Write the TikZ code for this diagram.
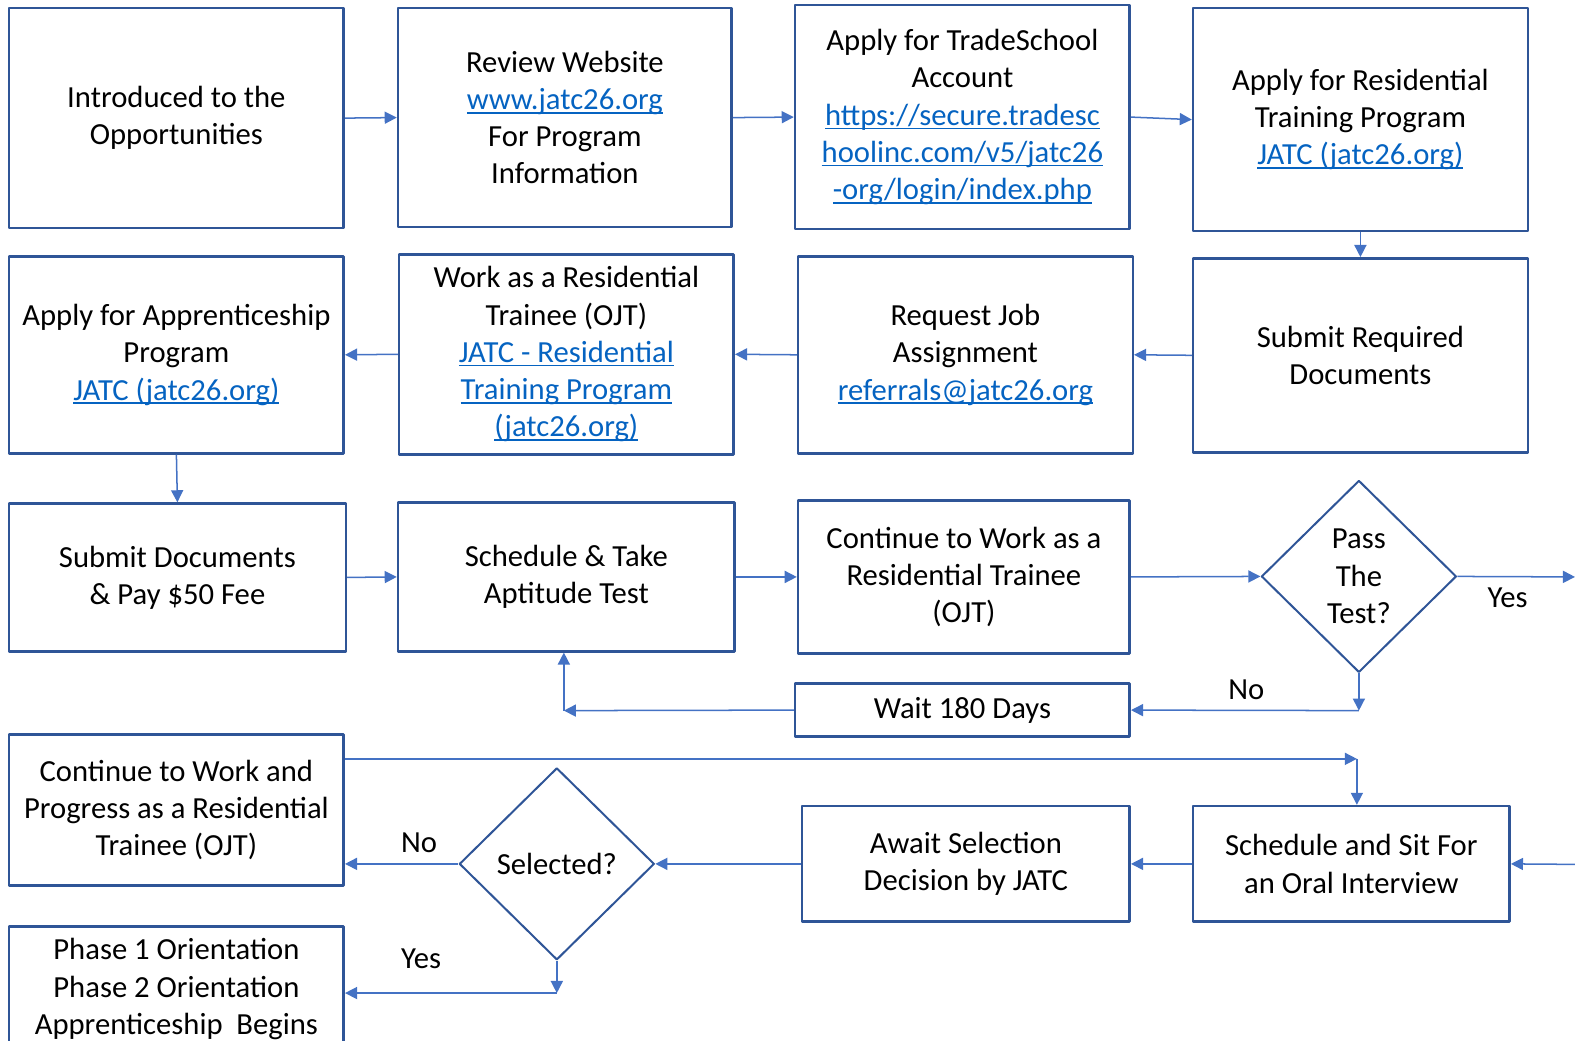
\documentclass[tikz,border=0pt]{standalone}
\usepackage{fontspec}
\setmainfont{Carlito}
\usetikzlibrary{arrows.meta,shapes.geometric}
\definecolor{boxblue}{HTML}{2F5597}
\definecolor{lineblue}{HTML}{4472C4}
\definecolor{linkblue}{HTML}{0563C1}
\newcommand\lnk[1]{{\color{linkblue}\setbox0\hbox{#1}\rlap{\rule[-4pt]{\wd0}{1.6pt}}\box0}}
\begin{document}
\begin{tikzpicture}[x=1pt,y=-1pt,line join=round,>={Triangle[length=12pt,width=12pt]},font=\fontsize{30.5}{37}\selectfont,
	box/.style={draw=boxblue,line width=2.5pt,align=center,inner sep=0pt},
	choice/.style={draw=boxblue,line width=2pt,diamond,align=center,inner sep=0pt,minimum width=194pt,minimum height=191pt},
	arr/.style={->,draw=lineblue,line width=1.5pt}]
	\useasboundingbox (0,0) rectangle (1567,1035);
	\node[box,minimum width=333,minimum height=219] (A1) at (175.5,117.5) {Introduced to the\\Opportunities};
	\node[box,minimum width=332,minimum height=218] (A2) at (562,117) {Review Website\\\lnk{www.jatc26.org}\\For Program\\Information};
	\node[box,minimum width=333,minimum height=223] (A3) at (957.5,116.5) {Apply for TradeSchool\\Account\\\lnk{https://secure.tradesc}\\\lnk{hoolinc.com/v5/jatc26}\\\lnk{-org/login/index.php}};
	\node[box,minimum width=333,minimum height=222] (A4) at (1353.5,119) {Apply for Residential\\Training Program\\\lnk{JATC (jatc26.org)}};
	\node[box,minimum width=333,minimum height=193] (B4) at (1353.5,353.5) {Submit Required\\Documents};
	\node[box,minimum width=333,minimum height=196] (B3) at (960.5,353) {Request Job\\Assignment\\\lnk{referrals@jatc26.org}};
	\node[box,minimum width=333,minimum height=199] (B2) at (563.5,352.5) {Work as a Residential\\Trainee (OJT)\\\lnk{JATC - Residential}\\\lnk{Training Program}\\\lnk{(jatc26.org)}};
	\node[box,minimum width=333,minimum height=196] (B1) at (175.5,353) {Apply for Apprenticeship\\Program\\\lnk{JATC (jatc26.org)}};
	\node[box,minimum width=335,minimum height=147] (C1) at (176.5,574.5) {Submit Documents\\\& Pay \$50 Fee};
	\node[box,minimum width=335,minimum height=148] (C2) at (563.5,574) {Schedule \& Take\\Aptitude Test};
	\node[box,minimum width=330,minimum height=152] (C3) at (959,574) {Continue to Work as a\\Residential Trainee\\(OJT)};
	\node[choice] (P) at (1352,573.5) {Pass\\The\\Test?};
	\node[box,minimum width=333,minimum height=53] (W) at (957.5,706.5) {Wait 180 Days};
	\node[box,minimum width=333,minimum height=150] (E) at (175.5,806) {Continue to Work and\\Progress as a Residential\\Trainee (OJT)};
	\node[box,minimum width=315,minimum height=115] (F4) at (1344.5,859.5) {Schedule and Sit For\\an Oral Interview};
	\node[box,minimum width=326,minimum height=115] (F3) at (961,859.5) {Await Selection\\Decision by JATC};
	\node[choice] (S) at (554,859.5) {Selected?};
	\node[box,minimum width=333,minimum height=124] (G) at (175.5,984) {Phase 1 Orientation\\Phase 2 Orientation\\Apprenticeship\ \ Begins};
	\coordinate (yes) at (1567,574);
	\coordinate (no) at (1352,707);
	\coordinate (back) at (561,707);
	\coordinate (over) at (1350,755);
	\coordinate (oral) at (1567,860);
	\coordinate (sel) at (554,988);
	\draw[arr] (A1.east) -- (A2.west);
	\draw[arr] (A2.east) -- (A3.west);
	\draw[arr] (A3.east) -- (A4.west);
	\draw[arr] (A4.south) -- (B4.north);
	\draw[arr] (B4.west) -- (B3.east);
	\draw[arr] (B3.west) -- (B2.east);
	\draw[arr] (B2.west) -- (B1.east);
	\draw[arr] (B1.south) -- (C1.north);
	\draw[arr] (C1.east) -- (C2.west);
	\draw[arr] (C2.east) -- (C3.west);
	\draw[arr] (C3.east) -- (P.west);
	\draw[arr] (P.east) -- (yes);
	\draw[arr] (P.south) -- (no);
	\draw[arr] (no) -- (W.east);
	\draw[arr] (W.west) -- (back);
	\draw[arr] (back) -- (back |- C2.south);
	\draw[arr] (E.east |- over) -- (over);
	\draw[arr] (over) -- (over |- F4.north);
	\draw[arr] (oral) -- (F4.east);
	\draw[arr] (F4.west) -- (F3.east);
	\draw[arr] (F3.west) -- (S.east);
	\draw[arr] (S.west) -- (S.west -| E.east);
	\draw[arr] (S.south) -- (sel);
	\draw[arr] (sel) -- (sel -| G.east);
	\node (yeslbl) at (1500,595) {Yes};
	\node (nolbl) at (1240,686) {No};
	\node (nosel) at (417,838) {No};
	\node (yessel) at (419,954) {Yes};
\end{tikzpicture}
\end{document}
